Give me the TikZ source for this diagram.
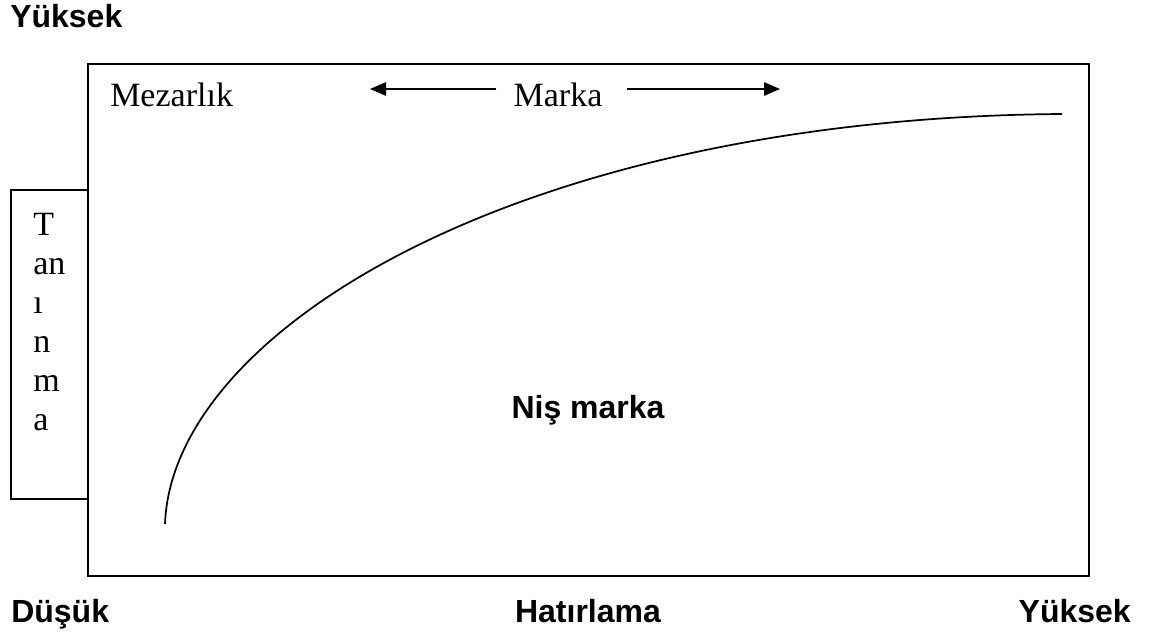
\documentclass[tikz,border=0pt]{standalone}
\usepackage{fontspec}
\setmainfont{Liberation Serif}
\newfontfamily\axisfont{Liberation Sans}
\usepackage{tikz}
\usetikzlibrary{arrows.meta,positioning,calc}

\begin{document}
\begin{tikzpicture}[x=0.75pt,y=-0.75pt,
    axislabel/.style={font=\axisfont\bfseries\fontsize{24}{28}\selectfont,inner sep=0pt},
    seriflabel/.style={font=\fontsize{25.5}{30}\selectfont,inner sep=0pt},
    frameline/.style={line width=1.5pt},
    dirarrow/.style={-{Triangle[length=12pt,width=10pt]},line width=1.3pt}]
                \useasboundingbox (0,0) rectangle (1156,635);
                % Frames
                \draw[frameline] (88,64) rectangle (1089,576);
                \draw[frameline] (11,190) rectangle (88,499);

                % Curve
                \draw[line width=1.3pt] (165,524) .. controls (172,330) and (520,118) .. (1062,114);

                % Labels inside
                \node[seriflabel,anchor=base west] (mezar) at (110,107) {Mezarlık};
                \node[seriflabel,anchor=base] (marka) at (558,107) {Marka};
                \node[axislabel,anchor=base] (nis) at (588,418) {Niş marka};

                % Direction arrows
                \coordinate (leftend) at (370,89);
                \coordinate (rightend) at (780,89);
                \coordinate (leftstart) at ($(marka.west)+(-17,0)$);
                \coordinate (rightstart) at ($(marka.east)+(24,0)$);
                \draw[dirarrow] (leftstart |- leftend) -- (leftend);
                \draw[dirarrow] (rightstart |- rightend) -- (rightend);

                % Tanınma
                \foreach \ch/\yy in {T/235,an/274,ı/313,n/352,m/391,a/430}
                    \node[seriflabel,anchor=base west] (tan-\ch) at (33,\yy) {\ch};

                % Axis ends
                \node[axislabel,anchor=base west] (ust) at (10,28) {Yüksek};
                \node[axislabel,anchor=base west] (dusuk) at (11,622) {Düşük};
                \node[axislabel,anchor=base] (hatir) at (588,622) {Hatırlama};
                \node[axislabel,anchor=base east] (yuksek) at (1131,622) {Yüksek};
\end{tikzpicture}
\end{document}
